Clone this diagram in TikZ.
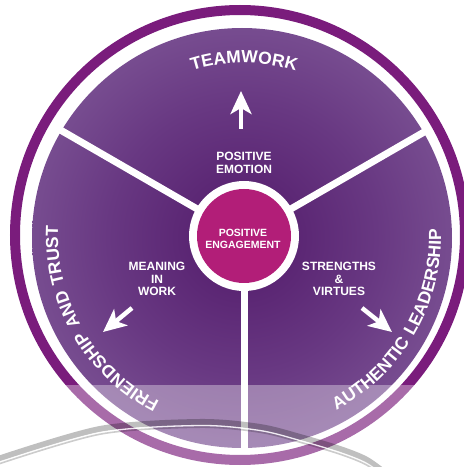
\documentclass[tikz,border=0pt]{standalone}
\usepackage{fontspec}
\setmainfont{Liberation Sans}
\newfontfamily\curvefamily[LetterSpace=8]{Liberation Sans}
\usetikzlibrary{decorations.text, arrows.meta, calc}
\definecolor{ringc}{RGB}{122,28,124}
\definecolor{magc}{RGB}{178,30,120}
\definecolor{dA}{RGB}{82,26,106}
\definecolor{dB}{RGB}{104,56,130}
\definecolor{dC}{RGB}{160,132,182}
\pgfdeclareradialshading{discshade}{\pgfpoint{0bp}{0bp}}{color(0bp)=(dA); color(16bp)=(dB); color(50bp)=(dC)}
\newcommand\curvefont{\curvefamily\fontsize{17.5}{20}\selectfont\bfseries}
\begin{document}
\begin{tikzpicture}[x=1pt,y=1pt,
  spoke/.style={white, line width=7pt},
  arr/.style={white, line width=4.5pt, -{Stealth[length=23pt,width=21pt,inset=6pt]}},
  lbl/.style={text=white, font=\bfseries\fontsize{12}{12.5}\selectfont, align=center, inner sep=0pt},
  curvetext/.style={decorate, decoration={text along path, text align=center, text color=white}},
  arcband/.style={line width=6pt, black, opacity=0.25},
  arcgap/.style={line width=1.3pt, white, opacity=0.85},
  arcthin/.style={line width=1.6pt, black, opacity=0.2}
]
\useasboundingbox (0,0) rectangle (464,467);
\clip (0,0) rectangle (464,467);
\coordinate (R) at (240,232);
\coordinate (D) at (242,229);
\coordinate (C) at (244,231);
% outer ring
\node[circle, draw=ringc, line width=10pt, minimum size=450pt, inner sep=0pt] (ring) at (R) {};
% disc
\node[circle, shade, shading=discshade, minimum size=420pt, inner sep=0pt] (disc) at (D) {};
% spokes
\coordinate (sL) at ($(C)+(150:212)$);
\coordinate (sR) at ($(C)+(30:212)$);
\coordinate (sB) at ($(C)+(270:216)$);
\draw[spoke] (C) -- (sL);
\draw[spoke] (C) -- (sR);
\draw[spoke] (C) -- (sB);
% centre
\node[circle, fill=white, minimum size=110pt, inner sep=0pt] (cw) at (C) {};
\node[circle, fill=magc, minimum size=94pt, inner sep=0pt] (core) at (C) {};
\node[lbl, font=\bfseries\fontsize{10.5}{12}\selectfont] (coretxt) at (243,228) {POSITIVE\\ENGAGEMENT};
% inner labels
\node[lbl] (emo) at (244,304) {POSITIVE\\EMOTION};
\node[lbl] (mean) at (157,188) {MEANING\\IN\\WORK};
\node[lbl] (str) at (339,188) {STRENGTHS\\\&\\VIRTUES};
% arrows
\coordinate (u1) at (241,338); \coordinate (u2) at (241,376);
\coordinate (l1) at (132,159); \coordinate (l2) at (103,135);
\coordinate (r1) at (362,159); \coordinate (r2) at (392,135);
\draw[arr] (u1) -- (u2);
\draw[arr] (l1) -- (l2);
\draw[arr] (r1) -- (r2);
% curved texts
\path[curvetext, decoration={text={|\curvefont|TEAMWORK}}]
  ($(C)+(130:173)$) arc[start angle=130, end angle=50, radius=173];
\path[curvetext, decoration={text={|\curvefont|FRIENDSHIP AND TRUST}}]
  ($(C)+(265:186)$) arc[start angle=265, end angle=155, radius=186];
\path[curvetext, decoration={text={|\curvefont|AUTHENTIC LEADERSHIP}}]
  ($(C)+(-85:197)$) arc[start angle=-85, end angle=25, radius=197];
% lighter bottom band
\fill[white, opacity=0.35] (0,0) rectangle (464,82);
% grey arc
\draw[arcband] plot[smooth] coordinates {(-5,7) (100,38) (200,45) (260,40) (300,30) (340,18) (367,7) (390,-10)};
\draw[arcgap] plot[smooth] coordinates {(-5,3.5) (100,34.5) (200,41.5) (260,36.5) (300,26.5) (340,14.5) (367,3.5) (390,-13.5)};
\draw[arcthin] plot[smooth] coordinates {(-5,1.8) (100,32.8) (200,39.8) (260,34.8) (300,24.8) (340,12.8) (367,1.8) (390,-15.2)};
\end{tikzpicture}
\end{document}
